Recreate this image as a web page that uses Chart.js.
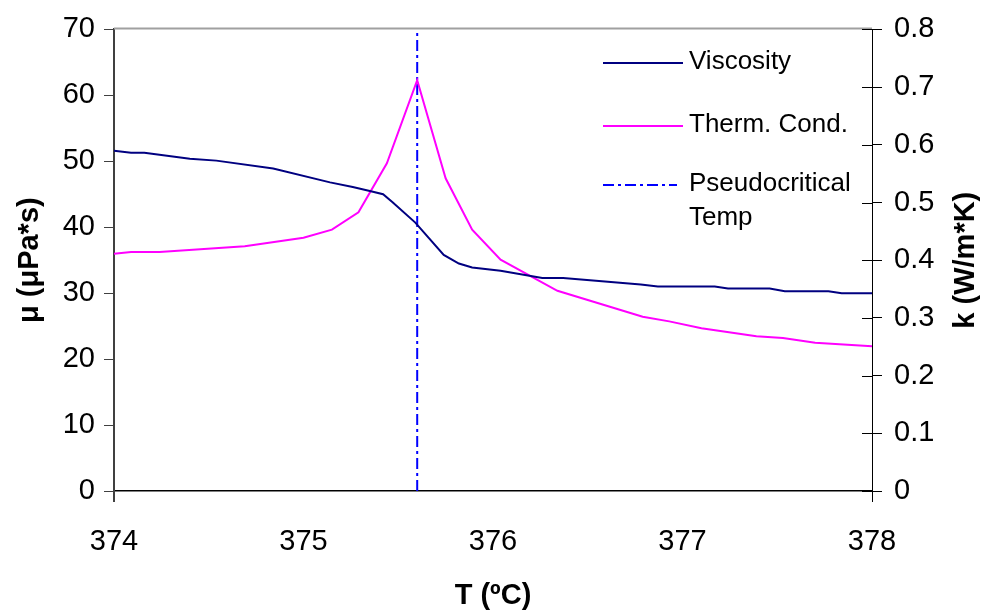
<!DOCTYPE html>
<html>
<head>
<meta charset="utf-8">
<script src="https://cdn.jsdelivr.net/npm/chart.js@4.4.0/dist/chart.umd.min.js"></script>
<style>
  body { margin: 0; background: #fff; }
  #wrap { width: 988px; height: 616px; position: relative; }
</style>
</head>
<body>
<div id="wrap"><canvas id="propChart"></canvas></div>
<script>
// Temperatures (ºC) and values
const viscT = [374.00, 374.09, 374.16, 374.40, 374.54, 374.84, 375.14, 375.26, 375.35, 375.42, 375.47, 375.59,
               375.74, 375.82, 375.89, 376.04, 376.26, 376.37, 376.78, 376.87, 377.17, 377.24, 377.46, 377.54,
               377.77, 377.84, 378.00];
const viscosity = [51.6, 51.3, 51.3, 50.4, 50.1, 48.9, 46.8, 46.1, 45.5, 45.0, 43.8, 40.7,
                   35.8, 34.5, 33.9, 33.4, 32.3, 32.3, 31.3, 31.0, 31.0, 30.7, 30.7, 30.3,
                   30.3, 30.0, 30.0];

const condT = [374.00, 374.09, 374.24, 374.69, 375.00, 375.15, 375.29, 375.44, 375.60, 375.75,
               375.89, 376.04, 376.34, 376.79, 376.93, 377.10, 377.39, 377.53, 377.70, 378.00];
const thermCond = [0.411, 0.414, 0.414, 0.424, 0.439, 0.453, 0.483, 0.568, 0.712, 0.542,
                   0.453, 0.401, 0.347, 0.302, 0.294, 0.282, 0.268, 0.265, 0.257, 0.251];

const pseudoTemp = 375.6;
const muTicks = [0, 70];   // left axis range
const kTicks = [0, 0.8];   // right axis range
const tTicks = [374, 378]; // x axis range

const FONT = '"Liberation Sans", Arial, sans-serif';

function pairs(xs, ys) {
  return xs.map((x, i) => ({ x: x, y: ys[i] }));
}

// extra bits Excel draws: top border, right ticks crossing the axis, right title, legend
const extras = {
  id: 'extras',
  afterDraw(chart) {
    const ctx = chart.ctx;
    const a = chart.chartArea;
    const yR = chart.scales.y1;
    ctx.save();
    // top border
    ctx.strokeStyle = '#a0a0a0';
    ctx.lineWidth = 2;
    ctx.beginPath();
    ctx.moveTo(a.left, a.top - 1);
    ctx.lineTo(a.right, a.top - 1);
    ctx.stroke();
    // right ticks inside part
    ctx.strokeStyle = '#000';
    ctx.lineWidth = 1;
    yR.ticks.forEach(t => {
      const py = Math.round(yR.getPixelForValue(t.value)) + 0.5;
      ctx.beginPath();
      ctx.moveTo(a.right - 10, py);
      ctx.lineTo(a.right, py);
      ctx.stroke();
    });
    // axes extend below the x axis
    ctx.strokeStyle = '#404040';
    ctx.lineWidth = 2;
    ctx.beginPath();
    ctx.moveTo(a.left, a.bottom);
    ctx.lineTo(a.left, a.bottom + 11);
    ctx.stroke();
    ctx.strokeStyle = '#000';
    ctx.lineWidth = 1;
    ctx.beginPath();
    ctx.moveTo(a.right + 0.5, a.bottom);
    ctx.lineTo(a.right + 0.5, a.bottom + 11);
    ctx.stroke();

    // right axis title, reads bottom to top like the left one
    ctx.save();
    ctx.translate(966, (a.top + a.bottom) / 2);
    ctx.rotate(-Math.PI / 2);
    ctx.font = 'bold 29px ' + FONT;
    ctx.fillStyle = '#000';
    ctx.textAlign = 'center';
    ctx.textBaseline = 'middle';
    ctx.fillText('k (W/m*K)', 0, 0);
    ctx.restore();

    // legend
    const rows = [63, 126, 185];
    ctx.font = '26px ' + FONT;
    ctx.fillStyle = '#000';
    ctx.textBaseline = 'middle';
    chart.data.datasets.forEach((ds, i) => {
      const y = rows[i];
      ctx.strokeStyle = ds.borderColor;
      ctx.lineWidth = ds.borderWidth;
      ctx.setLineDash(ds.borderDash || []);
      ctx.beginPath();
      ctx.moveTo(603, y);
      ctx.lineTo(i === 2 ? 677 : 683, y);
      ctx.stroke();
      ctx.setLineDash([]);
      const lines = ds.label.split('\n');
      lines.forEach((txt, j) => ctx.fillText(txt, 689, y - 1 + j * 34));
    });
    ctx.restore();
  }
};

new Chart(document.getElementById('propChart'), {
  type: 'line',
  data: {
    datasets: [
      {
        label: 'Viscosity',
        data: pairs(viscT, viscosity),
        yAxisID: 'y',
        borderColor: '#000080',
        borderWidth: 2,
        pointRadius: 0,
        tension: 0
      },
      {
        label: 'Therm. Cond.',
        data: pairs(condT, thermCond),
        yAxisID: 'y1',
        borderColor: '#ff00ff',
        borderWidth: 2,
        pointRadius: 0,
        tension: 0
      },
      {
        label: 'Pseudocritical\nTemp',
        data: [{ x: pseudoTemp, y: muTicks[0] }, { x: pseudoTemp, y: muTicks[1] }],
        yAxisID: 'y',
        borderColor: '#0000ff',
        borderWidth: 2,
        borderDash: [11, 4, 3, 4],
        pointRadius: 0
      }
    ]
  },
  options: {
    responsive: true,
    maintainAspectRatio: false,
    animation: false,
    layout: { padding: { top: 23, left: 0, right: 0, bottom: 0 } },
    plugins: {
      legend: { display: false },
      tooltip: { enabled: false }
    },
    scales: {
      x: {
        type: 'linear',
        min: tTicks[0],
        max: tTicks[1],
        ticks: { stepSize: 1, color: '#000', font: { family: FONT, size: 29 }, padding: 34 },
        grid: { drawOnChartArea: false, drawTicks: false },
        border: { color: '#000', width: 1.5 },
        title: { display: true, text: 'T (ºC)', color: '#000', font: { family: FONT, size: 29, weight: 'bold' }, padding: { bottom: 3, top: 0 } },
        afterFit(scale) { scale.height = 125; }
      },
      y: {
        position: 'left',
        min: muTicks[0],
        max: muTicks[1],
        ticks: { stepSize: 10, color: '#000', font: { family: FONT, size: 29 }, padding: 9 },
        grid: { drawOnChartArea: false, tickLength: 10, tickColor: '#404040', tickWidth: 1 },
        border: { color: '#404040', width: 2 },
        title: { display: true, text: 'μ (μPa*s)', color: '#000', font: { family: FONT, size: 29, weight: 'bold' }, padding: { top: 13, bottom: 0 } },
        afterFit(scale) { scale.width = 114; }
      },
      y1: {
        position: 'right',
        min: kTicks[0],
        max: kTicks[1],
        ticks: {
          stepSize: 0.1, color: '#000', font: { family: FONT, size: 29 }, padding: 12,
          callback: v => String(Math.round(v * 10) / 10)
        },
        grid: { drawOnChartArea: false, tickLength: 10, tickColor: '#000', tickWidth: 1 },
        border: { color: '#000', width: 1 },
        afterFit(scale) { scale.width = 116; }
      }
    }
  },
  plugins: [extras]
});
</script>
</body>
</html>
